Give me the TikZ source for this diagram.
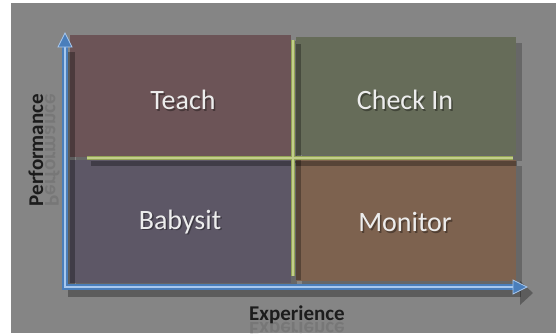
\documentclass[tikz,border=0pt]{standalone}
\usepackage{fontspec}
\setmainfont{Carlito}
\usetikzlibrary{arrows.meta}
\definecolor{bgc}{HTML}{858585}
\definecolor{teachc}{HTML}{6C5457}
\definecolor{checkc}{HTML}{666C59}
\definecolor{babyc}{HTML}{5D5766}
\definecolor{monc}{HTML}{7D624F}
\definecolor{grn}{HTML}{93A455}
\definecolor{grnl}{HTML}{C2CE8A}
\definecolor{blu}{HTML}{4A7EBB}
\definecolor{blul}{HTML}{A8C8EE}
\definecolor{txtc}{HTML}{EDEDED}
\definecolor{labc}{HTML}{1C1C1C}
\tikzset{
  quad/.style={fill=#1, draw=none},
  qshadow/.style={fill=black, opacity=0.22, draw=none},
  qtext/.style={text=txtc, font=\fontsize{28}{30}\selectfont, inner sep=0pt},
  qtextsh/.style={text=black, opacity=0.35, font=\fontsize{28}{30}\selectfont, inner sep=0pt},
  axlab/.style={text=labc, font=\fontsize{21}{23}\selectfont\bfseries, inner sep=0pt},
  axref/.style={text=labc, opacity=0.13, font=\fontsize{21}{23}\selectfont\bfseries, inner sep=0pt},
  gline/.style={draw=grn, line width=4.5pt},
  glinel/.style={draw=grnl, line width=1.2pt},
  gshadow/.style={draw=black, opacity=0.3, line width=5pt},
  aline/.style={draw=blu, line width=6pt},
  alinel/.style={draw=blul, line width=1.6pt},
  ashadow/.style={draw=black, opacity=0.3, line width=7pt},
  ahead/.style={fill=blu, draw=blul, line width=0.8pt},
}
\begin{document}
\begin{tikzpicture}[x=1pt,y=-1pt]
\useasboundingbox (0,0) rectangle (556,333);
\fill[white] (0,0) rectangle (556,333);
\fill[bgc] (11,3) rectangle (556,333);
% quadrants shadows
\fill[qshadow] (76,41) rectangle (297,163);
\fill[qshadow] (302,43) rectangle (522,161);
\fill[qshadow] (76,166) rectangle (297,290);
\fill[qshadow] (302,166) rectangle (522,287);
% quadrants
\path[quad=teachc] (70,35) rectangle (291,157);
\path[quad=checkc] (296,37) rectangle (516,155);
\path[quad=babyc] (70,160) rectangle (291,283);
\path[quad=monc] (296,160) rectangle (516,281);
% grid lines
\coordinate (hl) at (87,158);
\coordinate (hr) at (513,158);
\coordinate (vt) at (293,40);
\coordinate (vb) at (293,276);
\draw[gshadow] ([shift={(4,5)}]hl) -- ([shift={(4,5)}]hr);
\draw[gshadow] ([shift={(5,4)}]vt) -- ([shift={(5,4)}]vb);
\draw[gline] (hl) -- (hr);
\draw[gline] (vt) -- (vb);
\draw[glinel] (hl) -- (hr);
\draw[glinel] (vt) -- (vb);
% axes
\coordinate (o) at (65,287);
\coordinate (ytip) at (65,33);
\coordinate (xtip) at (527,287);
\coordinate (yend) at (65,46);
\coordinate (xend) at (515,287);
\draw[ashadow] ([shift={(6,6)}]yend) -- ([shift={(6,6)}]o) -- ([shift={(6,6)}]xend);
\fill[black,opacity=0.3] (533,293) -- (520,281) -- (520,305) -- cycle;
\draw[aline] (yend) -- (o) -- (xend);
\draw[alinel] (yend) -- (o) -- (xend);
\path[ahead] (ytip) -- (58,47) -- (72,47) -- cycle;
\path[ahead] (xtip) -- (513,280) -- (513,294) -- cycle;
% quadrant labels
\node[qtextsh] at (184.5,101.5) {Teach};
\node[qtext] (teach) at (183,100) {Teach};
\node[qtextsh] at (406.5,101.5) {Check In};
\node[qtext] (checkin) at (405,100) {Check In};
\node[qtextsh] at (181.5,223.5) {Babysit};
\node[qtext] (babysit) at (180,222) {Babysit};
\node[qtextsh] at (406.5,223.5) {Monitor};
\node[qtext] (monitor) at (405,222) {Monitor};
% axis labels
\node[axlab, anchor=base] (exp) at (297,320) {Experience};
\node[axref, anchor=base, yscale=-1] (expr) at (297,322) {Experience};
\node[axlab, anchor=base, rotate=90] (perf) at (43,150) {Performance};
\node[axref, anchor=base, rotate=90, yscale=-1] (perfr) at (45,150) {Performance};
\end{tikzpicture}
\end{document}
